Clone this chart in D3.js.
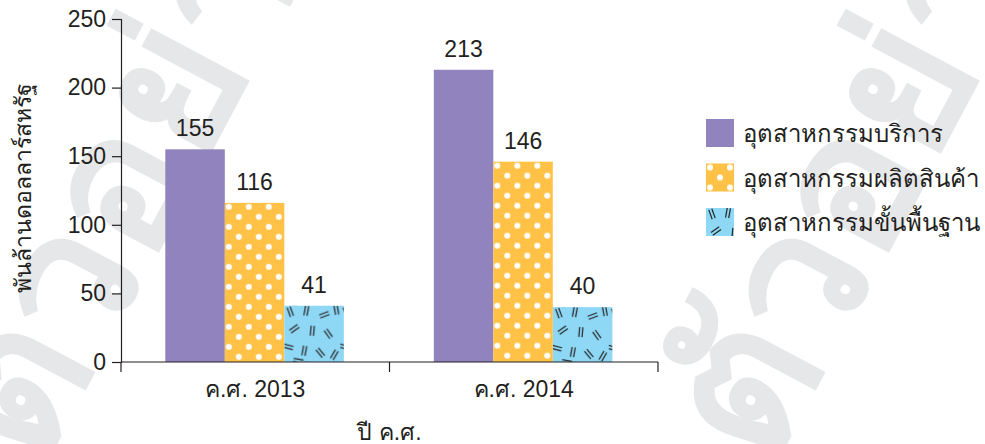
<!DOCTYPE html>
<html>
<head>
<meta charset="utf-8">
<script src="https://cdn.jsdelivr.net/npm/d3@7"></script>
<style>
  body { margin: 0; background: #fff; }
  svg text { font-family: "Liberation Sans", Arial, sans-serif; fill: #231f20; }
</style>
</head>
<body>
<script>
var years = ["ค.ศ. 2013", "ค.ศ. 2014"];
var seriesNames = ["อุตสาหกรรมบริการ", "อุตสาหกรรมผลิตสินค้า", "อุตสาหกรรมขั้นพื้นฐาน"];
var services = [155, 213];
var manufacturing = [116, 146];
var primary = [41, 40];
var yTicks = [0, 50, 100, 150, 200, 250];
var yTitle = "พันล้านดอลลาร์สหรัฐ";
var xTitle = "ปี ค.ศ.";

var width = 985, height = 444;
var margin = {left: 121, right: 327, top: 19, bottom: 82};

var svg = d3.select("body").append("svg")
    .attr("width", width)
    .attr("height", height);

var defs = svg.append("defs");

// dotted fill
var dots = defs.append("pattern").attr("id", "dots")
    .attr("patternUnits", "userSpaceOnUse")
    .attr("width", 20).attr("height", 20);
dots.append("rect").attr("width", 20).attr("height", 20).attr("fill", "#ffc247");
dots.append("circle").attr("cx", 4).attr("cy", 4).attr("r", 3).attr("fill", "#fff");
dots.append("circle").attr("cx", 14).attr("cy", 14).attr("r", 3).attr("fill", "#fff");

// scattered double strokes
var dashes = defs.append("pattern").attr("id", "dashes")
    .attr("patternUnits", "userSpaceOnUse")
    .attr("width", 56).attr("height", 56);
dashes.append("rect").attr("width", 56).attr("height", 56).attr("fill", "#8ed8f6");
var marks = [[6, 6, 70], [22, 5, 100], [40, 9, -20], [52, 4, 80],
             [10, 23, -35], [28, 25, 95], [44, 28, 55], [4, 41, 15],
             [20, 45, 100], [36, 47, 50], [50, 49, -60], [14, 55, 10]];
marks.forEach(function (m) {
    var g = dashes.append("g").attr("transform", "translate(" + m[0] + "," + m[1] + ") rotate(" + m[2] + ")");
    g.append("line").attr("x1", -5).attr("x2", 5).attr("y1", -1.6).attr("y2", -1.6);
    g.append("line").attr("x1", -5).attr("x2", 5).attr("y1", 1.6).attr("y2", 1.6);
    g.selectAll("line").attr("stroke", "#222").attr("stroke-width", 1.2);
});

var fills = ["#9083be", "url(#dots)", "url(#dashes)"];

// faint watermark behind the chart
var wm = svg.append("g")
    .style("font-family", "'Noto Sans', sans-serif").style("font-weight", "bold");
wm.append("text").attr("transform", "translate(40,470) rotate(-62)")
    .attr("font-size", 190).style("fill", "#e6e7e9").text("ตัวอย่าง");
wm.append("text").attr("transform", "translate(770,470) rotate(-62)")
    .attr("font-size", 190).style("fill", "#e6e7e9").text("ตัวอย่าง");

var x0 = d3.scaleBand()
    .domain(years)
    .range([margin.left, width - margin.right]);

var x1 = d3.scaleBand()
    .domain(d3.range(seriesNames.length))
    .range([x0.bandwidth() * 0.165, x0.bandwidth() * 0.83]);

var y = d3.scaleLinear()
    .domain([0, 250])
    .range([height - margin.bottom, margin.top]);

var rows = years.map(function (yr, i) {
    return {year: yr, values: [services[i], manufacturing[i], primary[i]]};
});

var group = svg.selectAll(".group")
    .data(rows)
    .enter().append("g")
    .attr("class", "group")
    .attr("transform", function (d) { return "translate(" + x0(d.year) + ",0)"; });

var bar = group.selectAll(".bar")
    .data(function (d) { return d.values.map(function (v, k) { return {k: k, v: v}; }); })
    .enter().append("g")
    .attr("class", "bar")
    .attr("transform", function (d) { return "translate(" + x1(d.k) + "," + y(d.v) + ")"; });

bar.append("rect")
    .attr("width", x1.bandwidth())
    .attr("height", function (d) { return y(0) - y(d.v); })
    .attr("fill", function (d) { return fills[d.k]; });

bar.append("text")
    .attr("x", x1.bandwidth() / 2)
    .attr("y", -13)
    .attr("text-anchor", "middle")
    .attr("font-size", 23)
    .text(function (d) { return d.v; });

// y axis
var yAxis = svg.append("g")
    .attr("transform", "translate(" + margin.left + ",0)")
    .call(d3.axisLeft(y).tickValues(yTicks).tickSize(9).tickPadding(6));
yAxis.selectAll("text").attr("font-size", 23).style("font-family", "'Liberation Sans', Arial, sans-serif").attr("fill", "#231f20");
yAxis.selectAll("line, path").attr("stroke", "#231f20").attr("stroke-width", 1.2);

// x axis: line with ticks at the band edges
var xAxis = svg.append("g")
    .attr("transform", "translate(0," + y(0) + ")")
    .call(d3.axisBottom(x0).tickSize(0).tickPadding(19));
xAxis.select(".domain").remove();
xAxis.selectAll("text").attr("font-size", 23).style("font-family", "'Liberation Sans', Arial, sans-serif").attr("fill", "#231f20");
xAxis.append("line")
    .attr("x1", x0.range()[0]).attr("x2", x0.range()[1])
    .attr("stroke", "#231f20").attr("stroke-width", 1.2);
xAxis.selectAll(".edge")
    .data(d3.range(years.length + 1))
    .enter().append("line")
    .attr("class", "edge")
    .attr("x1", function (i) { return x0.range()[0] + i * x0.step(); })
    .attr("x2", function (i) { return x0.range()[0] + i * x0.step(); })
    .attr("y1", 0).attr("y2", 10)
    .attr("stroke", "#231f20").attr("stroke-width", 1.2);

// axis titles
svg.append("text")
    .attr("transform", "translate(31,188) rotate(-90)")
    .attr("text-anchor", "middle")
    .attr("font-size", 23)
    .text(yTitle);

svg.append("text")
    .attr("x", x0.range()[0] + x0.step())
    .attr("y", 440)
    .attr("text-anchor", "middle")
    .attr("font-size", 23)
    .text(xTitle);

// legend
var legend = svg.selectAll(".legend")
    .data(seriesNames)
    .enter().append("g")
    .attr("class", "legend")
    .attr("transform", function (d, i) { return "translate(706," + (119 + i * 44.5) + ")"; });

legend.append("rect")
    .attr("width", 28).attr("height", 28)
    .attr("fill", function (d, i) { return fills[i]; });

legend.append("text")
    .attr("x", 37).attr("y", 23)
    .attr("font-size", 24)
    .text(function (d) { return d; });
</script>
</body>
</html>
